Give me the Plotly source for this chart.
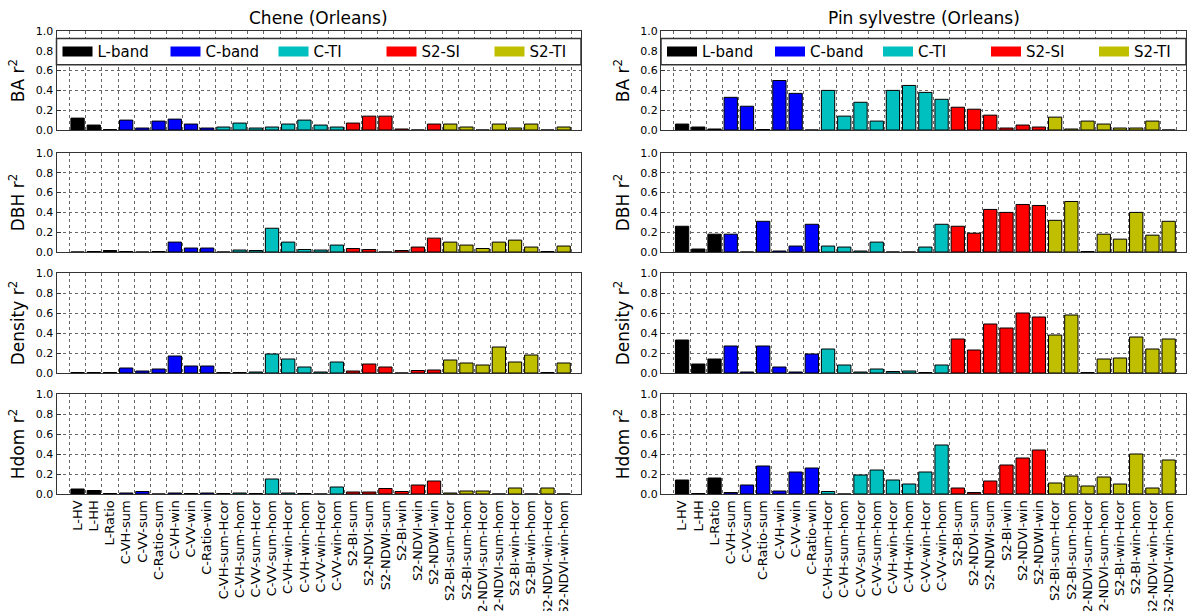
import plotly.graph_objects as go

categories = ["L-HV", "L-HH", "L-Ratio",
              "C-VH-sum", "C-VV-sum", "C-Ratio-sum", "C-VH-win", "C-VV-win", "C-Ratio-win",
              "C-VH-sum-Hcor", "C-VH-sum-hom", "C-VV-sum-Hcor", "C-VV-sum-hom",
              "C-VH-win-Hcor", "C-VH-win-hom", "C-VV-win-Hcor", "C-VV-win-hom",
              "S2-BI-sum", "S2-NDVI-sum", "S2-NDWI-sum", "S2-BI-win", "S2-NDVI-win", "S2-NDWI-win",
              "S2-BI-sum-Hcor", "S2-BI-sum-hom", "S2-NDVI-sum-Hcor", "S2-NDVI-sum-hom",
              "S2-BI-win-Hcor", "S2-BI-win-hom", "S2-NDVI-win-Hcor", "S2-NDVI-win-hom"]

groups = ["L-band", "C-band", "C-TI", "S2-SI", "S2-TI"]
group_sizes = [3, 6, 8, 6, 8]
group_colors = ["#000000", "#0000ff", "#00bfbf", "#ff0000", "#bfbf00"]

variables = ["BA", "DBH", "Density", "Hdom"]
sites = ["Chene (Orleans)", "Pin sylvestre (Orleans)"]

chene_ba = [0.12, 0.05, 0.005, 0.10, 0.02, 0.09, 0.11, 0.06, 0.02,
            0.03, 0.07, 0.02, 0.03, 0.06, 0.10, 0.05, 0.03,
            0.07, 0.14, 0.14, 0.01, 0.0, 0.06,
            0.06, 0.03, 0.0, 0.06, 0.02, 0.06, 0.0, 0.03]
chene_dbh = [0.0, 0.005, 0.015, 0.005, 0.0, 0.005, 0.10, 0.04, 0.04,
             0.0, 0.02, 0.015, 0.24, 0.10, 0.025, 0.02, 0.07,
             0.035, 0.025, 0.0, 0.015, 0.05, 0.14,
             0.10, 0.07, 0.035, 0.10, 0.12, 0.05, 0.005, 0.06]
chene_density = [0.005, 0.005, 0.005, 0.05, 0.02, 0.04, 0.17, 0.07, 0.07,
                 0.005, 0.005, 0.01, 0.19, 0.14, 0.06, 0.01, 0.11,
                 0.02, 0.09, 0.06, 0.0, 0.025, 0.03,
                 0.13, 0.10, 0.08, 0.26, 0.11, 0.18, 0.005, 0.10]
chene_hdom = [0.05, 0.035, 0.005, 0.01, 0.025, 0.0, 0.01, 0.005, 0.01,
              0.005, 0.01, 0.005, 0.15, 0.01, 0.005, 0.0, 0.07,
              0.02, 0.02, 0.055, 0.025, 0.09, 0.13,
              0.01, 0.03, 0.03, 0.0, 0.06, 0.0, 0.06, 0.0]

pin_ba = [0.06, 0.03, 0.01, 0.33, 0.24, 0.005, 0.50, 0.37, 0.0,
          0.40, 0.14, 0.28, 0.09, 0.40, 0.45, 0.38, 0.31,
          0.23, 0.21, 0.15, 0.02, 0.05, 0.03,
          0.13, 0.01, 0.09, 0.06, 0.02, 0.02, 0.09, 0.0]
pin_dbh = [0.26, 0.03, 0.18, 0.18, 0.0, 0.31, 0.01, 0.06, 0.28,
           0.06, 0.05, 0.01, 0.10, 0.0, 0.0, 0.05, 0.28,
           0.26, 0.19, 0.43, 0.40, 0.48, 0.47,
           0.32, 0.51, 0.005, 0.18, 0.13, 0.40, 0.17, 0.31]
pin_density = [0.33, 0.09, 0.14, 0.27, 0.01, 0.27, 0.06, 0.01, 0.19,
               0.24, 0.08, 0.01, 0.04, 0.015, 0.02, 0.005, 0.08,
               0.34, 0.23, 0.49, 0.45, 0.60, 0.56,
               0.38, 0.58, 0.005, 0.14, 0.15, 0.36, 0.24, 0.34]
pin_hdom = [0.14, 0.005, 0.16, 0.015, 0.09, 0.28, 0.03, 0.22, 0.26,
            0.025, 0.0, 0.19, 0.24, 0.14, 0.10, 0.22, 0.49,
            0.06, 0.015, 0.13, 0.29, 0.36, 0.44,
            0.11, 0.18, 0.08, 0.17, 0.10, 0.40, 0.06, 0.34]

data = {
    (0, 0): chene_ba, (1, 0): chene_dbh, (2, 0): chene_density, (3, 0): chene_hdom,
    (0, 1): pin_ba, (1, 1): pin_dbh, (2, 1): pin_density, (3, 1): pin_hdom,
}

W, H = 1196, 611
col_px = [(56.5, 581), (661, 1186)]
row_px = [(31, 130), (153, 252), (273, 373), (394, 494)]

FONT = "DejaVu Sans"
fig = go.Figure()

idx = list(range(len(categories)))
starts = [sum(group_sizes[:g]) for g in range(len(groups))]


def ax(name, n):
    return name if n == 1 else f"{name}{n}"


for r in range(4):
    for c in range(2):
        n = r * 2 + c + 1
        vals = data[(r, c)]
        for g, gname in enumerate(groups):
            xs = idx[starts[g]:starts[g] + group_sizes[g]]
            ys = vals[starts[g]:starts[g] + group_sizes[g]]
            fig.add_trace(go.Bar(
                x=xs, y=ys, name=gname,
                marker=dict(color=group_colors[g], line=dict(color="#000000", width=1)),
                width=0.82,
                xaxis=ax("x", n), yaxis=ax("y", n),
                showlegend=False,
            ))
        if r == 0:
            # legend swatches (legend-only entries)
            for g, gname in enumerate(groups):
                fig.add_trace(go.Scatter(
                    x=[None], y=[None], name=gname, mode="lines",
                    line=dict(color=group_colors[g], width=10),
                    xaxis=ax("x", n), yaxis=ax("y", n),
                    showlegend=True,
                    legend="legend" if c == 0 else "legend2",
                ))
            # legend frame
            fig.add_shape(type="rect", xref=f"{ax('x', n)} domain", yref=ax("y", n),
                          x0=0, x1=1, y0=0.66, y1=0.925,
                          fillcolor="white", line=dict(color="#333", width=1.5),
                          layer="above")
        x0, x1 = col_px[c]
        yt, yb = row_px[r]
        xa = dict(
            domain=[x0 / W, x1 / W],
            anchor=ax("y", n),
            range=[-1.3, 31.07],
            automargin=False,
            tickmode="array",
            tickvals=idx,
            ticktext=categories,
            showticklabels=(r == 3),
            tickangle=-90,
            tickfont=dict(family=FONT, size=13, color="#000"),
            ticks="",
            showgrid=False,
            zeroline=False,
            showline=True, mirror=True, linecolor="#333", linewidth=1.2,
            minor=dict(tickmode="array", tickvals=[i - 0.5 for i in range(len(idx) + 1)],
                       showgrid=True, gridcolor="#666", griddash="dot", gridwidth=1,
                       ticks=""),
        )
        ya = dict(
            domain=[1 - yb / H, 1 - yt / H],
            anchor=ax("x", n),
            range=[0, 1.0],
            automargin=False,
            tickmode="array",
            tickvals=[0, 0.2, 0.4, 0.6, 0.8, 1.0],
            ticktext=["0.0", "0.2", "0.4", "0.6", "0.8", "1.0"],
            tickfont=dict(family=FONT, size=11, color="#000"),
            ticks="inside", ticklen=4, tickcolor="#333",
            showgrid=True, gridcolor="#666", griddash="dot", gridwidth=1,
            zeroline=False,
            showline=True, mirror=True, linecolor="#333", linewidth=1.2,
            title=dict(text=f"{variables[r]} r<sup>2</sup>",
                       font=dict(family=FONT, size=17, color="#000"), standoff=6),
        )
        fig.layout[ax("xaxis", n)] = xa
        fig.layout[ax("yaxis", n)] = ya

legend_common = dict(
    orientation="h", yanchor="middle", xanchor="left",
    borderwidth=0, bgcolor="rgba(0,0,0,0)",
    font=dict(family=FONT, size=15, color="#000"),
    entrywidth=63, entrywidthmode="pixels", traceorder="normal",
    itemwidth=30,
)
ba_mid = 1 - row_px[0][1] / H + 0.79 * (row_px[0][1] - row_px[0][0]) / H
fig.update_layout(
    legend=dict(x=(col_px[0][0] + 1) / W, y=ba_mid, **legend_common),
    legend2=dict(x=(col_px[1][0] + 1) / W, y=ba_mid, **legend_common),
)

for c in range(2):
    x0, x1 = col_px[c]
    fig.add_annotation(text=sites[c], xref="paper", yref="paper",
                       x=(x0 + x1) / 2 / W, y=1 - 18 / H, xanchor="center", yanchor="middle",
                       showarrow=False, font=dict(family=FONT, size=17, color="#000"))

fig.update_layout(
    width=W, height=H,
    margin=dict(l=0, r=0, t=0, b=0, autoexpand=False),
    paper_bgcolor="white", plot_bgcolor="white",
    barmode="overlay",
    font=dict(family=FONT, color="#000"),
)

fig.write_html("out.html", config={"displayModeBar": False},
               post_script="document.body.style.margin='0';")
